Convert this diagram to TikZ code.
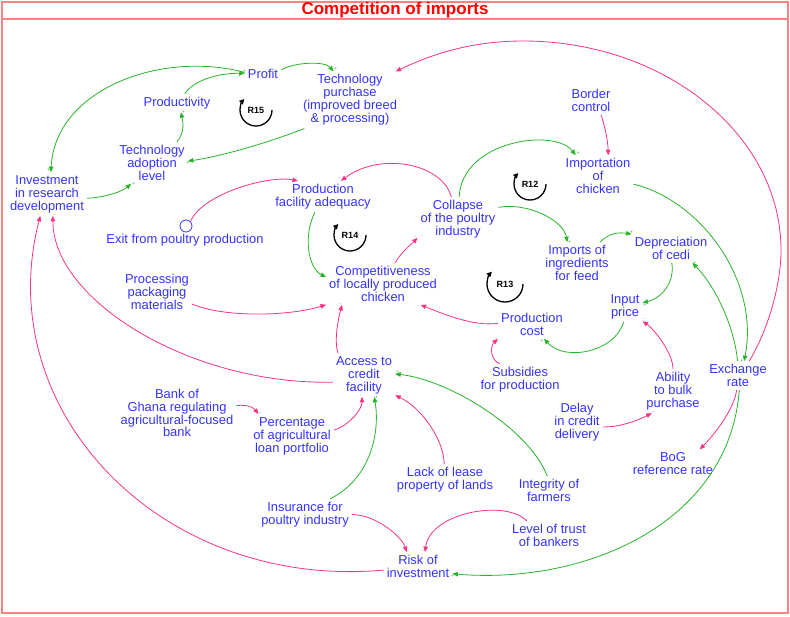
\documentclass[tikz,border=0pt]{standalone}
\usepackage{fontspec}
\setmainfont{Liberation Sans}
\usetikzlibrary{arrows.meta}
\definecolor{tblue}{RGB}{51,51,255}
\definecolor{gcol}{RGB}{40,180,40}
\definecolor{pcol}{RGB}{245,50,135}
\definecolor{fcol}{RGB}{255,130,130}
\definecolor{tred}{RGB}{255,0,0}
\begin{document}
\begin{tikzpicture}[x=1pt,y=-1pt,
  txt/.style={text=tblue, align=center, inner sep=3pt, font=\fontsize{12.9}{12.9}\selectfont},
  ag/.style={draw=gcol, line width=0.8pt, -{Triangle[length=5.5pt,width=4.5pt]}},
  ap/.style={draw=pcol, line width=0.8pt, -{Triangle[length=5.5pt,width=4.5pt]}},
  pg/.style={text=gcol, font=\fontsize{5}{5}\selectfont, inner sep=0.5pt},
  pm/.style={text=pcol, font=\fontsize{5}{5}\selectfont, inner sep=0.5pt},
  rlab/.style={font=\bfseries\fontsize{9}{9}\selectfont, text=black, inner sep=0pt},
  loopar/.style={draw=black, line width=1.3pt, -{Triangle[length=5pt,width=5pt]}},
  frame/.style={draw=fcol, line width=1.2pt},
  ttl/.style={text=tred, font=\bfseries\fontsize{17}{17}\selectfont, inner sep=0pt},
  circ/.style={draw=tblue, circle, minimum size=12pt, inner sep=0pt, line width=0.8pt}
]
\useasboundingbox (0,0) rectangle (790,616);
\draw[frame] (2,2) rectangle (788,613);
\draw[frame] (2,19) -- (788,19);
\node[ttl] (title) at (395,10.5) {Competition of imports};

% nodes
\node[txt] (profit) at (263,74) {Profit};
\node[txt] (techp) at (350,100) {Technology\\purchase\\(improved breed\\\& processing)};
\node[txt] (prod) at (177,103) {Productivity};
\node[txt] (tal) at (152,163) {Technology\\adoption\\level};
\node[txt] (ird) at (47,194) {Investment\\in research\\development};
\node[txt] (pfa) at (323,196.5) {Production\\facility adequacy};
\node[txt] (exit) at (185,240) {Exit from poultry production};
\node[circ] (exitc) at (186,226) {};
\node[txt] (coll) at (458,219) {Collapse\\of the poultry\\industry};
\node[txt] (border) at (591,100.5) {Border\\control};
\node[txt] (impc) at (598,176) {Importation\\of\\chicken};
\node[txt] (iif) at (577,263) {Imports of\\ingredients\\for feed};
\node[txt] (dep) at (671,248.5) {Depreciation\\of cedi};
\node[txt] (inp) at (625,306.5) {Input\\price};
\node[txt] (comp) at (383,284) {Competitiveness\\of locally produced\\chicken};
\node[txt] (pc) at (532,324.5) {Production\\cost};
\node[txt] (ppm) at (157,292) {Processing\\packaging\\materials};
\node[txt] (acf) at (364,375) {Access to\\credit\\facility};
\node[txt] (subs) at (520,379.5) {Subsidies\\for production};
\node[txt] (abp) at (673,391) {Ability\\to bulk\\purchase};
\node[txt] (exr) at (738,375.5) {Exchange\\rate};
\node[txt] (bog) at (177,413) {Bank of\\Ghana regulating\\agricultural-focused\\bank};
\node[txt] (pct) at (292,436) {Percentage\\of agricultural\\loan portfolio};
\node[txt] (delay) at (577,422) {Delay\\in credit\\delivery};
\node[txt] (bogr) at (673,463.5) {BoG\\reference rate};
\node[txt] (lease) at (445,480) {Lack of lease\\property of lands};
\node[txt] (integ) at (549,490.5) {Integrity of\\farmers};
\node[txt] (ins) at (305,514.5) {Insurance for\\poultry industry};
\node[txt] (trust) at (549,535.5) {Level of trust\\of bankers};
\node[txt] (risk) at (418,566.5) {Risk of\\investment};

% loop markers
\node[rlab] (r15) at (256,110) {R15};
\draw[loopar] (r15.center) ++(0:16pt) arc[start angle=0,end angle=-223,radius=16pt];
\node[rlab] (r12) at (530,184) {R12};
\draw[loopar] (r12.center) ++(0:16pt) arc[start angle=0,end angle=-223,radius=16pt];
\node[rlab] (r14) at (350,235) {R14};
\draw[loopar] (r14.center) ++(0:16pt) arc[start angle=0,end angle=-223,radius=16pt];
\node[rlab] (r13) at (505,284) {R13};
\draw[loopar] (r13.center) ++(0:18pt) arc[start angle=0,end angle=-223,radius=18pt];

% connectors
\draw[ag] (profit.13) .. controls (295,62) and (325,61) .. (techp.120) node[pg,pos=1,above right]{+};
\draw[ag] (profit.175) .. controls (160,50) and (55,90) .. (ird.80) node[pg,pos=1,above left]{+};
\draw[ag] (prod.50) .. controls (192,82) and (215,73) .. (profit.178) node[pg,pos=1,above]{+};
\draw[ag] (tal.40) .. controls (185,132) and (183,122) .. (prod.-67) node[pg,pos=1,right]{+};
\draw[ag] (techp.212) .. controls (270,142) and (223,156) .. (tal.3) node[pg,pos=1,below]{+};
\draw[ag] (ird.-6) .. controls (99,198) and (119.6,193.4) .. (tal.225) node[pg,pos=1,right]{+};
\draw[ap] (exitc.45) .. controls (202,194) and (268,175) .. (pfa.148) node[pm,pos=1,above left]{-};
\draw[ap] (coll.107) .. controls (443,164) and (381,151) .. (pfa.41) node[pm,pos=1,above left]{-};
\draw[ag] (coll.87) .. controls (462,140) and (555,128) .. (impc.137) node[pg,pos=1,above right]{+};
\draw[ag] (coll.16) .. controls (528,202) and (563.6,220.6) .. (iif.115) node[pg,pos=1,right]{+};
\draw[ap] (border.-55) .. controls (605,127) and (608,141) .. (impc.64) node[pm,pos=1,right]{-};
\draw[ag] (impc.-13) .. controls (700,200) and (760,280) .. (exr.67) node[pg,pos=1,left]{+};
\draw[ap] (exr.52) .. controls (768,330) and (781,285) .. (781,250)
   .. controls (781,135) and (665,41) .. (523,41)
   .. controls (470,41) and (430,55) .. (techp.32) node[pm,pos=1,above]{-};
\draw[ag] (exr.92) .. controls (735,330) and (717,288) .. (dep.-34) node[pg,pos=1,right]{+};
\draw[ag] (iif.42) .. controls (609,232.6) and (619.8,232.2) .. (dep.160) node[pg,pos=1,above]{+};
\draw[ag] (dep.-87) .. controls (675,282) and (662,298) .. (inp.12) node[pg,pos=1,below right]{+};
\draw[ag] (inp.-95) .. controls (615,352) and (565,362) .. (pc.-50) node[pg,pos=1,below left]{+};
\draw[ap] (abp.90) .. controls (673,353) and (654,329) .. (inp.-40) node[pm,pos=1,above right]{-};
\draw[ap] (delay.-11) .. controls (620,427) and (636.8,421) .. (abp.226) node[pm,pos=1,right]{-};
\draw[ap] (exr.-95) .. controls (733.6,411) and (712,437) .. (bogr.28) node[pm,pos=1,right]{-};
\draw[ag] (exr.-85) .. controls (730,520) and (590,585) .. (risk.-12) node[pg,pos=1,below]{+};
\draw[ap] (pc.178) .. controls (473,327) and (440,312.6) .. (comp.-29) node[pm,pos=1,below left]{-};
\draw[ap] (subs.142) .. controls (490,360) and (490,346) .. (pc.south west) node[pm,pos=1,left]{-};
\draw[ap] (comp.60) .. controls (400,253.4) and (409.7,245.8) .. (coll.205) node[pm,pos=1,left]{-};
\draw[ag] (pfa.-117) .. controls (303,235) and (308,268) .. (comp.173) node[pg,pos=1,left]{+};
\draw[ap] (ppm.-19) .. controls (225,318) and (290,316) .. (comp.200) node[pm,pos=1,below]{-};
\draw[ap] (acf.140) .. controls (334,341) and (338,319.6) .. (comp.-153) node[pm,pos=1,left]{-};
\draw[ap] (acf.193) .. controls (190,385) and (53,300) .. (ird.-75) node[pm,pos=1,right]{-};
\draw[ap] (risk.186) .. controls (160,590) and (-10,410) .. (ird.-107) node[pm,pos=1,left]{-};
\draw[ap] (bog.7) .. controls (247,404) and (254,408) .. (pct.147) node[pm,pos=1,right]{-};
\draw[ap] (pct.8) .. controls (348,426) and (362,410) .. (acf.-95) node[pm,pos=1,left]{-};
\draw[ag] (ins.32) .. controls (372,478) and (380,430) .. (acf.-65) node[pg,pos=1,right]{+};
\draw[ap] (lease.93) .. controls (444,440) and (422,408) .. (acf.-33) node[pm,pos=1,above right]{-};
\draw[ag] (integ.97) .. controls (530,430) and (450,380) .. (acf.2) node[pg,pos=1,above right]{+};
\draw[ap] (ins.0) .. controls (377,515) and (402,537) .. (risk.128) node[pm,pos=1,right]{-};
\draw[ap] (trust.147) .. controls (507,499) and (430,512) .. (risk.64) node[pm,pos=1,left]{-};
\end{tikzpicture}
\end{document}
